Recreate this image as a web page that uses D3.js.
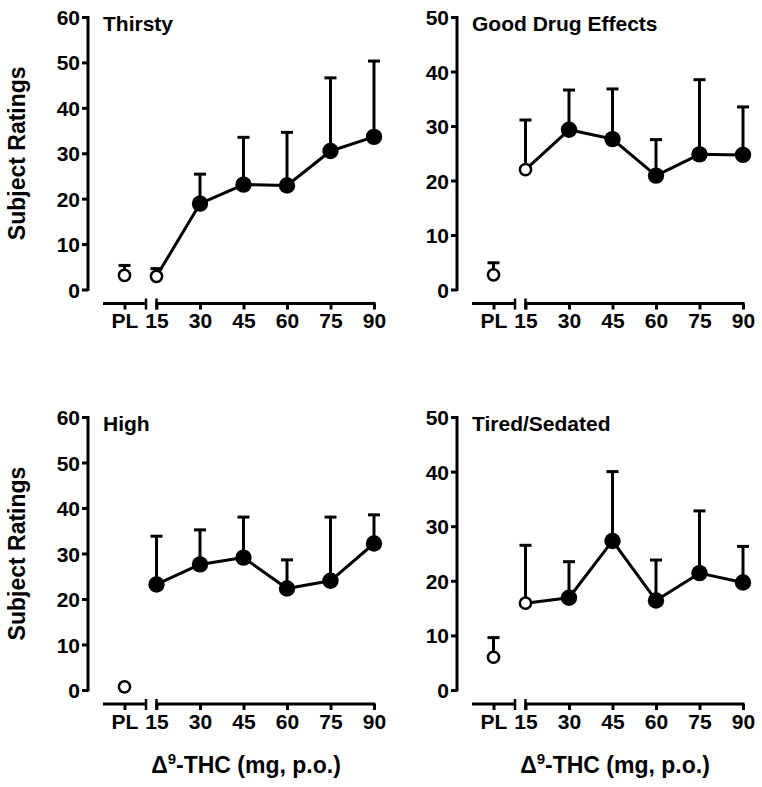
<!DOCTYPE html>
<html><head><meta charset="utf-8">
<script src="https://cdn.jsdelivr.net/npm/d3@7"></script>
<style>body{margin:0;background:#fff}svg{display:block}text{font-family:"Liberation Sans",Arial,sans-serif;font-weight:bold;fill:#000}</style>
</head><body>
<script>
const doses = [15, 30, 45, 60, 75, 90];
const placeboLabel = "PL";
const panelTitles = ["Thirsty", "Good Drug Effects", "High", "Tired/Sedated"];
const yMax = [60, 50, 60, 50];
const yTicks = [[0,10,20,30,40,50,60],[0,10,20,30,40,50],[0,10,20,30,40,50,60],[0,10,20,30,40,50]];

const thirstyPL = 3.1, thirstyPLErr = 2.2;
const thirstyMeans = [2.9, 18.9, 23.1, 22.9, 30.5, 33.6];
const thirstyErrs = [1.7, 6.5, 10.4, 11.7, 16.1, 16.7];
const thirstySig = [false, true, true, true, true, true];

const goodPL = 2.7, goodPLErr = 2.2;
const goodMeans = [22.0, 29.3, 27.6, 20.9, 24.8, 24.7];
const goodErrs = [9.1, 7.3, 9.2, 6.6, 13.7, 8.8];
const goodSig = [false, true, true, true, true, true];

const highPL = 0.7, highPLErr = 0;
const highMeans = [23.2, 27.6, 29.1, 22.3, 24.0, 32.2];
const highErrs = [10.6, 7.6, 8.9, 6.3, 14.0, 6.3];
const highSig = [true, true, true, true, true, true];

const tiredPL = 6.0, tiredPLErr = 3.6;
const tiredMeans = [15.9, 16.9, 27.3, 16.4, 21.4, 19.7];
const tiredErrs = [10.6, 6.6, 12.7, 7.4, 11.4, 6.6];
const tiredSig = [false, true, true, true, true, true];

const panelData = [
  {pl: thirstyPL, plErr: thirstyPLErr, means: thirstyMeans, errs: thirstyErrs, sig: thirstySig},
  {pl: goodPL, plErr: goodPLErr, means: goodMeans, errs: goodErrs, sig: goodSig},
  {pl: highPL, plErr: highPLErr, means: highMeans, errs: highErrs, sig: highSig},
  {pl: tiredPL, plErr: tiredPLErr, means: tiredMeans, errs: tiredErrs, sig: tiredSig}
];

const W = 762, H = 787;
const svg = d3.select("body").append("svg").attr("width", W).attr("height", H);

const layout = [
  {left: 88, top: 17, bottom: 289.5},
  {left: 457, top: 17, bottom: 289.5},
  {left: 88, top: 417, bottom: 690},
  {left: 457, top: 417, bottom: 690}
];

const SW = 3;
panelData.forEach((d, i) => {
  const L = layout[i];
  const g = svg.append("g");
  const y = d3.scaleLinear().domain([0, yMax[i]]).range([L.bottom, L.top]);
  const x = d3.scaleLinear().domain([15, 90]).range([L.left + 68.5, L.left + 286]);
  const xPL = d3.scalePoint().domain([placeboLabel]).range([L.left + 15, L.left + 58]).padding(0.5);
  const axisY = L.bottom + 14;

  // y axis
  const yAxis = d3.axisLeft(y).tickValues(yTicks[i]).tickSize(6).tickPadding(2).tickSizeOuter(0);
  const ya = g.append("g").attr("transform", `translate(${L.left},0)`).call(yAxis);
  ya.select(".domain").attr("stroke-width", SW).attr("d", `M0,${L.bottom+1.5}V${L.top-1}`);
  ya.selectAll(".tick line").attr("stroke-width", SW);
  ya.selectAll(".tick text").style("font-size", "21px").attr("font-family", null).attr("fill", "#000").attr("dy", "0.36em");

  // x axis: placebo segment
  const xa1 = g.append("g").attr("transform", `translate(0,${axisY})`).call(d3.axisBottom(xPL).tickSize(6).tickPadding(4).tickSizeOuter(0));
  xa1.select(".domain").attr("stroke-width", SW).attr("d", `M${L.left+15},0H${L.left+58}`);
  xa1.selectAll(".tick line").attr("stroke-width", SW);
  xa1.selectAll(".tick text").style("font-size", "21px").attr("fill", "#000");
  xa1.append("line").attr("x1", L.left + 58).attr("x2", L.left + 58).attr("y1", -5).attr("y2", 6).attr("stroke", "#000").attr("stroke-width", 2.5);

  // x axis: dose segment
  const xa2 = g.append("g").attr("transform", `translate(0,${axisY})`).call(d3.axisBottom(x).tickValues(doses).tickSize(6).tickPadding(4).tickSizeOuter(0));
  xa2.select(".domain").attr("stroke-width", SW).attr("d", `M${x(15)-1},0H${x(90)+1.5}`);
  xa2.selectAll(".tick line").attr("stroke-width", SW);
  xa2.selectAll(".tick text").style("font-size", "21px").attr("fill", "#000");
  xa2.append("line").attr("x1", x(15)).attr("x2", x(15)).attr("y1", -5).attr("y2", 6).attr("stroke", "#000").attr("stroke-width", 2.5);

  // title
  g.append("text").attr("x", L.left + 15).attr("y", L.top + 14).style("font-size", "21px").text(panelTitles[i]);

  const pts = doses.map((dose, k) => ({x: x(dose), m: d.means[k], e: d.errs[k], sig: d.sig[k]}));
  const capW = 6;
  const drawErr = (px, m, e) => {
    if (e <= 0) return;
    g.append("line").attr("x1", px).attr("x2", px).attr("y1", y(m)).attr("y2", y(m + e)).attr("stroke", "#000").attr("stroke-width", SW);
    g.append("line").attr("x1", px - capW).attr("x2", px + capW).attr("y1", y(m + e)).attr("y2", y(m + e)).attr("stroke", "#000").attr("stroke-width", SW);
  };
  const plX = xPL(placeboLabel);
  drawErr(plX, d.pl, d.plErr);
  pts.forEach(p => drawErr(p.x, p.m, p.e));
  g.append("path").datum(pts).attr("fill", "none").attr("stroke", "#000").attr("stroke-width", SW).attr("stroke-linejoin", "round")
    .attr("d", d3.line().x(p => p.x).y(p => y(p.m)));
  const marker = (px, m, sig) => {
    if (sig) g.append("circle").attr("cx", px).attr("cy", y(m)).attr("r", 8.2).attr("fill", "#000");
    else g.append("circle").attr("cx", px).attr("cy", y(m)).attr("r", 5.6).attr("fill", "#fff").attr("stroke", "#000").attr("stroke-width", 2.5);
  };
  marker(plX, d.pl, false);
  pts.forEach(p => marker(p.x, p.m, p.sig));

  if (i % 2 === 0) {
    g.append("text").attr("transform", `translate(${L.left - 63},${(L.top + L.bottom) / 2}) rotate(-90)`)
      .attr("text-anchor", "middle").style("font-size", "23px").text("Subject Ratings");
  }
  if (i >= 2) {
    const t = g.append("text").attr("x", L.left + 158).attr("y", 773).attr("text-anchor", "middle").style("font-size", "23px");
    t.append("tspan").text("\u0394");
    t.append("tspan").attr("dy", -9).style("font-size", "15px").text("9");
    t.append("tspan").attr("dy", 9).text("-THC (mg, p.o.)");
  }
});
</script>
</body></html>
